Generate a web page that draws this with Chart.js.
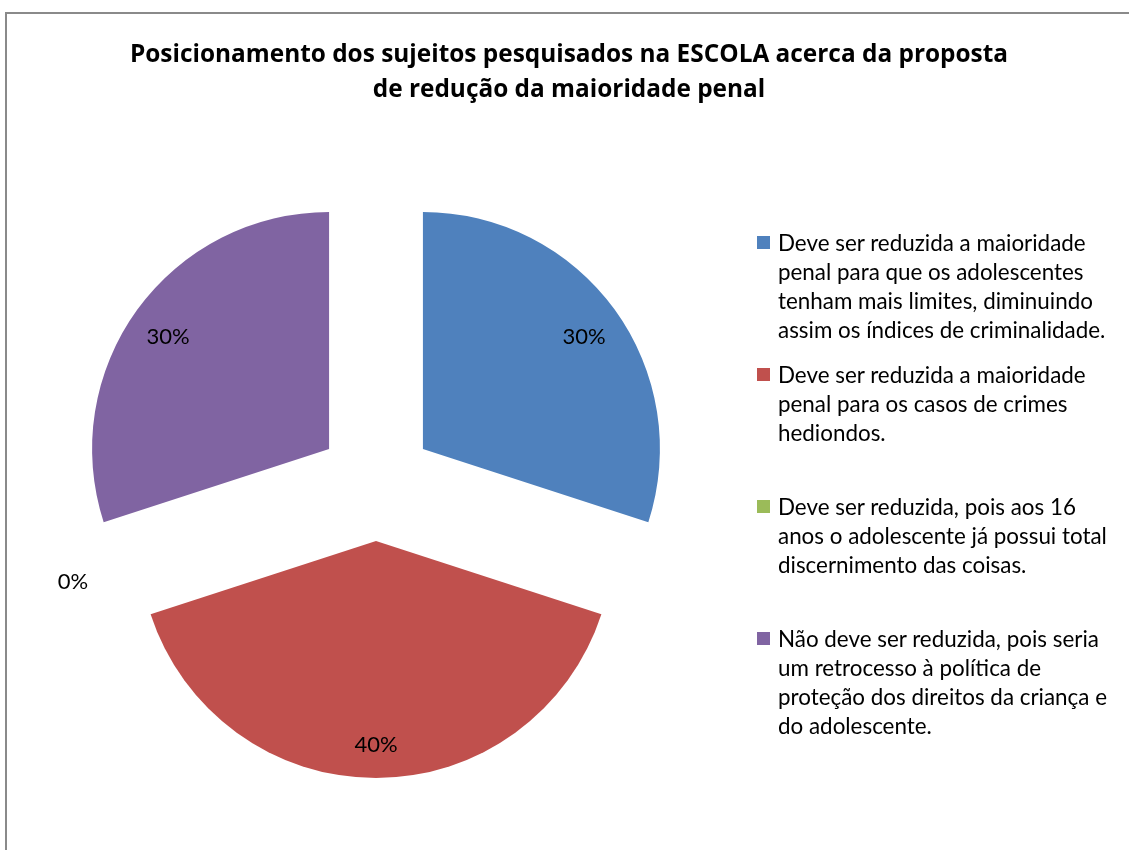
<!DOCTYPE html>
<html lang="pt-BR">
<head>
<meta charset="utf-8">
<title>Posicionamento dos sujeitos pesquisados na ESCOLA</title>
<script src="https://cdn.jsdelivr.net/npm/chart.js@4/dist/chart.umd.min.js"></script>
<style>
    html, body { margin: 0; padding: 0; background: #fff; overflow: hidden; }
    #wrap { position: relative; width: 1129px; height: 850px; overflow: hidden; font-family: Lato, "Open Sans", sans-serif; color: #000; }
    #frame { position: absolute; left: 5px; top: 12px; width: 1200px; height: 900px; border-left: 2px solid #8a8a8a; border-top: 2px solid #8a8a8a; }
    #pie { position: absolute; left: 0; top: 0; }
    #title { position: absolute; left: 19px; width: 1100px; top: 35px; text-align: center; font-family: "Open Sans", Lato, sans-serif; font-weight: bold; font-size: 24.4px; line-height: 35px; }
    .legend-item { position: absolute; left: 757px; font-size: 22.4px; line-height: 29px; white-space: nowrap; }
    .legend-item .box { position: absolute; left: 0; top: 8px; width: 13px; height: 13px; }
    .legend-item .txt { margin-left: 21px; }
</style>
</head>
<body>
<div id="wrap">
    <div id="frame"></div>
    <canvas id="pie" width="1129" height="850"></canvas>
    <div id="title">Posicionamento dos sujeitos pesquisados na ESCOLA acerca da proposta<br>de redução da maioridade penal</div>
    <div id="legend"></div>
</div>
<script>
// --- DADOS ---
const categorias = [
    ['Deve ser reduzida a maioridade', 'penal para que os adolescentes', 'tenham mais limites, diminuindo', 'assim os índices de criminalidade.'],
    ['Deve ser reduzida a maioridade', 'penal para os casos de crimes', 'hediondos.'],
    ['Deve ser reduzida, pois aos 16', 'anos o adolescente já possui total', 'discernimento das coisas.'],
    ['Não deve ser reduzida, pois seria', 'um retrocesso à política de', 'proteção dos direitos da criança e', 'do adolescente.']
];
const percentuais = [30, 40, 0, 30];
const cores = ['#4F81BD', '#C0504D', '#9BBB59', '#8064A2'];

// Fatias "explodidas" como no Excel: cada arco é deslocado ao longo do seu ângulo médio
const explodePlugin = {
    id: 'explode',
    beforeDatasetDraw(chart, args, opts) {
        const ctx = chart.ctx;
        args.meta.data.forEach(arc => {
            const mid = (arc.startAngle + arc.endAngle) / 2;
            ctx.save();
            ctx.translate(Math.cos(mid) * opts.distance, Math.sin(mid) * opts.distance);
            arc.draw(ctx);
            ctx.restore();
        });
        return false; // já desenhado acima
    },
    afterDatasetsDraw(chart, args, opts) {
        const ctx = chart.ctx;
        const meta = chart.getDatasetMeta(0);
        ctx.save();
        ctx.font = opts.font;
        ctx.fillStyle = '#000';
        ctx.textAlign = 'center';
        ctx.textBaseline = 'middle';
        meta.data.forEach((arc, i) => {
            const mid = (arc.startAngle + arc.endAngle) / 2;
            const value = chart.data.datasets[0].data[i];
            // rótulo dentro da fatia, ou fora quando a fatia é vazia
            const dist = opts.distance + arc.outerRadius * (value > 0 ? opts.inside : opts.outside);
            const dy = value > 0 ? opts.dy : 0;
            ctx.fillText(value + '%', arc.x + Math.cos(mid) * dist, arc.y + Math.sin(mid) * dist + dy);
        });
        ctx.restore();
    }
};

const pieChart = new Chart(document.getElementById('pie').getContext('2d'), {
    type: 'pie',
    data: {
        labels: categorias,
        datasets: [{
            data: percentuais,
            backgroundColor: cores,
            borderWidth: 0
        }]
    },
    options: {
        responsive: false,
        animation: false,
        radius: 237,
        layout: { padding: { left: 0, right: 377, top: 130, bottom: 14 } },
        plugins: {
            legend: { display: false },
            title: { display: false },
            tooltip: { enabled: false },
            explode: { distance: 58, inside: 0.84, outside: 1.1, dy: 5, font: '22px Lato, "Open Sans", sans-serif' }
        }
    },
    plugins: [explodePlugin]
});

// --- LEGENDA (HTML, à direita) ---
const legendEl = document.getElementById('legend');
categorias.forEach((linhas, i) => {
    const item = document.createElement('div');
    item.className = 'legend-item';
    item.style.top = (228 + i * 132) + 'px';
    const box = document.createElement('span');
    box.className = 'box';
    box.style.background = pieChart.data.datasets[0].backgroundColor[i];
    const txt = document.createElement('div');
    txt.className = 'txt';
    txt.innerHTML = linhas.join('<br>');
    item.appendChild(box);
    item.appendChild(txt);
    legendEl.appendChild(item);
});
</script>
</body>
</html>
